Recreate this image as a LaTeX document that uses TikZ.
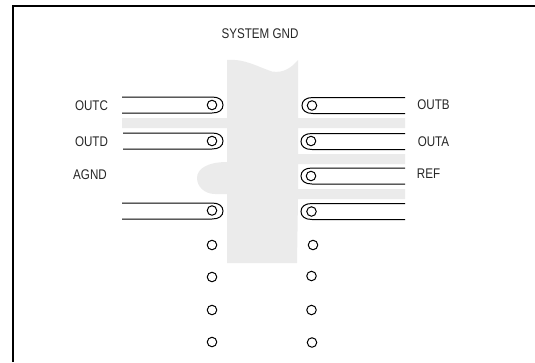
\documentclass[tikz,border=0pt]{standalone}
\usepackage{fontspec}
\setmainfont[FakeStretch=0.83]{Liberation Sans}
\definecolor{padgray}{RGB}{235,235,235}
\tikzset{
  frameline/.style={line width=1.5pt,black},
  pad/.style={fill=padgray,draw=none},
  trace/.style={line width=1pt,black},
  via/.style={circle,draw=black,line width=1pt,fill=none,minimum size=9.5pt,inner sep=0pt},
  lab/.style={font=\fontsize{14pt}{16pt}\selectfont,text=black!85,inner sep=0pt,anchor=center}
}
\begin{document}
\begin{tikzpicture}[x=1pt,y=-1pt]
\useasboundingbox (0,0) rectangle (535,362);
% ground pour
\path[pad] (227,60) .. controls (245,58.5) and (258,67) .. (272,71.5)
  .. controls (284,73.5) and (292,67) .. (298,60)
  -- (298,118) -- (405,118) -- (405,128) -- (298,128) -- (298,154) -- (405,154) -- (405,164)
  -- (298,164) -- (298,189) -- (405,189) -- (405,199) -- (298,199) -- (297,263) -- (227,263)
  -- (227,194) -- (215,194) .. controls (205,194) and (197,187) .. (197,178)
  .. controls (197,169) and (207,162) .. (227,162)
  -- (227,128) -- (122,128) -- (122,118) -- (227,118) -- cycle;
% frame
\draw[frameline] (13,362) -- (13,6) -- (535,6);
% left traces
\draw[trace] (122,97) -- (212,97) .. controls (219,97) and (223,100) .. (223,105) .. controls (223,110) and (219,113) .. (212,113) -- (122,113);
\draw[trace] (123,133) -- (212,133) .. controls (219,133) and (223,136) .. (223,141) .. controls (223,146) and (219,149) .. (212,149) -- (123,149);
\draw[trace] (122,203) -- (212,203) .. controls (219,203) and (223,206) .. (223,211) .. controls (223,216) and (219,219) .. (212,219) -- (122,219);
% right traces
\draw[trace] (405,97.5) -- (313,97.5) .. controls (306,97.5) and (302,100.5) .. (302,105.5) .. controls (302,110.5) and (306,113.5) .. (313,113.5) -- (405,113.5);
\draw[trace] (405,133.5) -- (312,133.5) .. controls (305,133.5) and (301,136.5) .. (301,141.5) .. controls (301,146.5) and (305,149.5) .. (312,149.5) -- (405,149.5);
\draw[trace] (405,168) -- (312,168) .. controls (305,168) and (301,171) .. (301,176) .. controls (301,181) and (305,184) .. (312,184) -- (405,184);
\draw[trace] (405,203.5) -- (312,203.5) .. controls (305,203.5) and (301,206.5) .. (301,211.5) .. controls (301,216.5) and (305,219.5) .. (312,219.5) -- (405,219.5);
% vias
\node[via] (l1) at (212,105) {};
\node[via] (l2) at (212,141) {};
\node[via] (l3) at (212,210.5) {};
\node[via] (l4) at (212,245) {};
\node[via] (l5) at (212,277) {};
\node[via] (l6) at (212,310) {};
\node[via] (l7) at (212,342) {};
\node[via] (r1) at (312,105.5) {};
\node[via] (r2) at (311,141) {};
\node[via] (r3) at (311,176) {};
\node[via] (r4) at (311.5,211.5) {};
\node[via] (r5) at (313,245) {};
\node[via] (r6) at (311.5,276) {};
\node[via] (r7) at (311.5,310) {};
\node[via] (r8) at (312,342.5) {};
% labels
\node[lab] (sys) at (260,34) {SYSTEM GND};
\node[lab] (outc) at (91.5,105.5) {OUTC};
\node[lab] (outd) at (91.5,141.5) {OUTD};
\node[lab] (agnd) at (90,175) {AGND};
\node[lab] (outb) at (433.5,104.5) {OUTB};
\node[lab] (outa) at (433.5,141.5) {OUTA};
\node[lab] (refl) at (428.5,174) {REF};
\end{tikzpicture}
\end{document}
